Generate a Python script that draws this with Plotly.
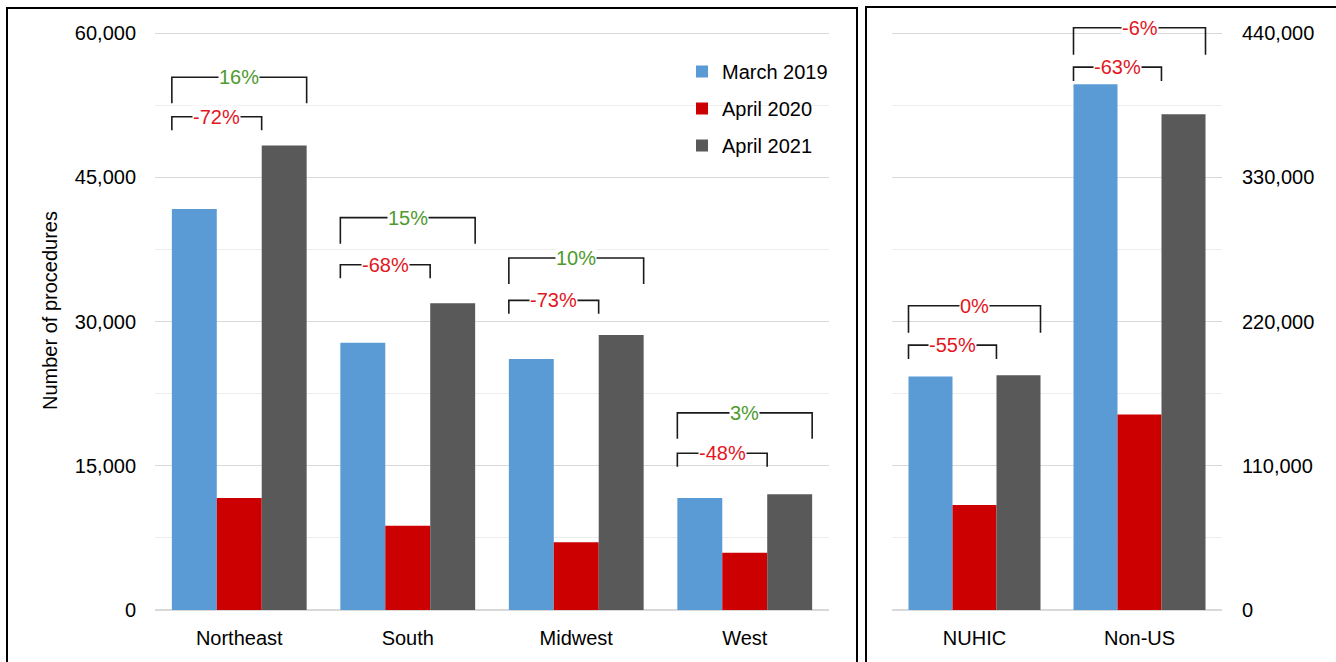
import plotly.graph_objects as go

# ── Data ──────────────────────────────────────────────────────────────────────
REGIONS = ["Northeast", "South", "Midwest", "West"]
MAR_2019 = [41700, 27800, 26100, 11650]
APR_2020 = [11650, 8750, 7050, 5950]
APR_2021 = [48300, 31900, 28600, 12050]

OTHER = ["NUHIC", "Non-US"]
MAR_2019_O = [178000, 401000]
APR_2020_O = [80000, 149000]
APR_2021_O = [179000, 378000]

PCT_2020 = ["-72%", "-68%", "-73%", "-48%"]
PCT_2021 = ["16%", "15%", "10%", "3%"]
PCT_2020_O = ["-55%", "-63%"]
PCT_2021_O = ["0%", "-6%"]

# bracket heights (top of bracket line) in axis units
BR_2021 = [55400, 40800, 36600, 20500]
BR_2020 = [51300, 35900, 32200, 16300]
BR_2021_O = [232000, 444000]
BR_2020_O = [202000, 414000]

# ── Style ─────────────────────────────────────────────────────────────────────
BLUE = "#5B9BD5"
RED = "#CC0000"
GREY = "#595959"
GREEN_TXT = "#4E9A2E"
RED_TXT = "#E3161E"
GRID = "#D9D9D9"
FONT = "Liberation Sans, Arial, sans-serif"
FS = 20

W, H = 1336, 662

fig = go.Figure()

series = [("March 2019", BLUE, MAR_2019, MAR_2019_O),
          ("April 2020", RED, APR_2020, APR_2020_O),
          ("April 2021", GREY, APR_2021, APR_2021_O)]

for i, (name, col, left, right) in enumerate(series):
    fig.add_trace(go.Bar(x=REGIONS, y=left, name=name, marker_color=col,
                         marker_line_width=0, legendgroup=str(i),
                         xaxis="x", yaxis="y"))
    fig.add_trace(go.Bar(x=OTHER, y=right, name=name, marker_color=col,
                         marker_line_width=0, showlegend=False,
                         xaxis="x2", yaxis="y2"))


def bracket(xc, ytop, drop, x0off, x1off, label, color, xref, yref):
    x0, x1 = xc + x0off, xc + x1off
    fig.add_shape(type="path", xref=xref, yref=yref,
                  path=f"M {x0},{ytop - drop} L {x0},{ytop} L {x1},{ytop} L {x1},{ytop - drop}",
                  line=dict(color="#1a1a1a", width=1.6))
    fig.add_annotation(x=(x0 + x1) / 2, y=ytop, xref=xref, yref=yref,
                       text=label, showarrow=False, bgcolor="white",
                       borderpad=0, font=dict(color=color, size=FS, family=FONT))


for i in range(len(REGIONS)):
    bracket(i, BR_2021[i], 2700, -0.4, 0.4, PCT_2021[i], GREEN_TXT, "x", "y")
    bracket(i, BR_2020[i], 1400, -0.4, 0.133, PCT_2020[i], RED_TXT, "x", "y")

for i in range(len(OTHER)):
    bracket(i, BR_2021_O[i], 20500, -0.4, 0.4, PCT_2021_O[i], RED_TXT, "x2", "y2")
    bracket(i, BR_2020_O[i], 10500, -0.4, 0.133, PCT_2020_O[i], RED_TXT, "x2", "y2")

# panel frames
fig.add_shape(type="rect", xref="paper", yref="paper",
              x0=7 / W, x1=857 / W, y0=-0.02, y1=1 - 8 / H,
              line=dict(color="black", width=2))
fig.add_shape(type="rect", xref="paper", yref="paper",
              x0=866 / W, x1=1.02, y0=-0.02, y1=1 - 7 / H,
              line=dict(color="black", width=2))

fig.add_annotation(text="Number of procedures", textangle=-90, showarrow=False,
                   xref="paper", yref="paper", x=50 / W, y=1 - 310 / H,
                   xanchor="center", yanchor="middle",
                   font=dict(size=FS, family=FONT, color="black"))

ydom = [1 - 610 / H, 1 - 13.8 / H]
axis_font = dict(size=FS, family=FONT, color="black")

fig.update_layout(
    width=W, height=H,
    barmode="group", bargap=0.2, bargroupgap=0,
    paper_bgcolor="white", plot_bgcolor="white",
    font=dict(family=FONT, size=FS, color="black"),
    margin=dict(l=0, r=0, t=0, b=0, autoexpand=False),
    showlegend=True,
    legend=dict(x=682 / W, y=1 - 52 / H, xanchor="left", yanchor="top",
                font=dict(size=FS, family=FONT), tracegroupgap=8,
                bgcolor="rgba(0,0,0,0)"),
    xaxis=dict(domain=[155 / W, 829 / W], anchor="y", showgrid=False,
               automargin=False,
               showline=False, ticks="", tickfont=axis_font, ticklabelstandoff=14),
    yaxis=dict(domain=ydom, anchor="x", range=[0, 62000], dtick=15000,
               automargin=False,
               tickformat=",", showgrid=True, gridcolor=GRID, gridwidth=1.2,
               zeroline=True, zerolinecolor=GRID, zerolinewidth=1.5,
               minor=dict(dtick=7500, showgrid=True, gridcolor="#EDEDED"),
               tickfont=axis_font, ticklabelstandoff=18),
    xaxis2=dict(domain=[892 / W, 1222 / W], anchor="y2", showgrid=False,
                automargin=False,
                showline=False, ticks="", tickfont=axis_font, ticklabelstandoff=14),
    yaxis2=dict(domain=ydom, anchor="x2", side="right",
                automargin=False,
                range=[0, 440000 * 62 / 60], dtick=110000,
                tickformat=",", showgrid=True, gridcolor=GRID, gridwidth=1.2,
                zeroline=True, zerolinecolor=GRID, zerolinewidth=1.5,
                minor=dict(dtick=55000, showgrid=True, gridcolor="#EDEDED"),
                tickfont=axis_font, ticklabelstandoff=19),
)

fig.write_html("out.html", config={"displayModeBar": False},
               post_script="document.body.style.margin='0';")
